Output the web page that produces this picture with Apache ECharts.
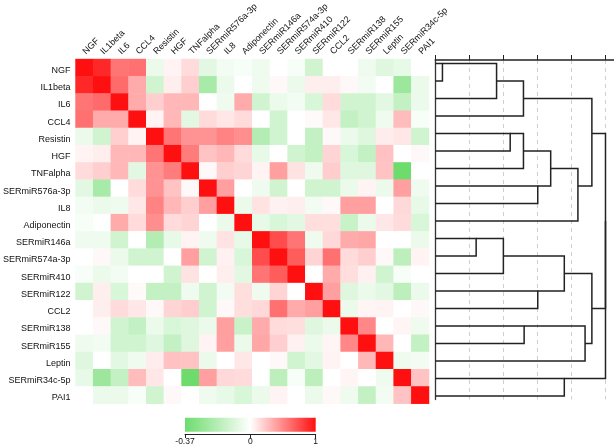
<!DOCTYPE html>
<html><head><meta charset="utf-8">
<script src="https://cdn.jsdelivr.net/npm/echarts@6/dist/echarts.min.js"></script>
<style>html,body{margin:0;padding:0;background:#fff}#c{width:614px;height:447px}</style>
</head><body><div id="c"></div>
<script>
// ---- data ----
const variables = ['NGF','IL1beta','IL6','CCL4','Resistin','HGF','TNFalpha','SERmiR576a-3p','IL8','Adiponectin','SERmiR146a','SERmiR574a-3p','SERmiR410','SERmiR122','CCL2','SERmiR138','SERmiR155','Leptin','SERmiR34c-5p','PAI1'];

// lower triangle (incl. diagonal) of the correlation matrix, row by row
const corrLower = [
  [1],
  [0.9, 1],
  [0.58, 0.62, 1],
  [0.6, 0.35, 0.35, 1],
  [-0.05, -0.12, 0.2, 0.05, 1],
  [0.05, 0.07, 0.3, 0.3, 0.58, 1],
  [0.15, 0.2, 0.3, -0.07, 0.45, 0.55, 1],
  [-0.07, -0.22, 0, 0.15, 0.45, 0.25, 0.03, 1],
  [-0.03, -0.05, -0.04, 0.1, 0.52, 0.3, 0.2, 0.4, 1],
  [-0.02, 0, 0.35, 0.15, 0.47, 0.15, 0.18, 0, -0.05, 1],
  [-0.04, -0.04, -0.12, 0, -0.19, -0.06, 0.05, -0.04, 0.12, -0.06, 1],
  [0, 0.03, -0.05, -0.12, -0.12, 0, 0.4, -0.12, 0.06, -0.1, 0.75, 1],
  [-0.02, -0.05, -0.03, 0, 0, -0.12, 0.12, 0, 0.07, -0.07, 0.58, 0.68, 1],
  [-0.12, 0.07, -0.1, 0.02, -0.15, -0.15, -0.04, -0.12, -0.03, 0.14, -0.04, 0.18, 0, 1],
  [0, 0.07, 0.15, 0.1, 0.03, 0.18, 0.21, -0.12, 0.03, 0.14, 0.16, 0.6, 0.35, 0.4, 1],
  [0, 0.03, -0.12, -0.15, -0.05, -0.1, -0.08, -0.05, 0.4, -0.14, 0.35, 0.15, 0.14, -0.08, -0.05, 1],
  [-0.04, -0.03, -0.12, -0.12, -0.08, -0.15, -0.08, 0.05, 0.4, -0.05, 0.37, 0.2, 0.06, -0.05, 0.04, 0.5, 1],
  [-0.08, 0, -0.07, -0.04, 0.08, 0.26, 0.25, -0.05, 0, 0.1, 0, 0.03, -0.12, -0.07, 0.05, 0, 0.3, 1],
  [-0.06, -0.25, -0.15, 0.28, 0.1, 0, -0.37, 0.4, 0.16, 0.15, 0, -0.17, -0.02, -0.17, 0, 0.04, 0, -0.04, 1],
  [0, -0.05, -0.05, -0.02, -0.12, 0.03, 0, -0.04, -0.06, -0.1, -0.05, 0.05, 0, -0.05, 0.03, -0.04, -0.15, -0.03, 0.25, 1]
];

// dendrogram linkage: merge k gets id 20+k; children are leaf indices (0-19) or merge ids
const mergeChildren = [
  [0,1],[20,2],[21,3],[4,5],[23,6],[7,8],[24,25],[26,9],[22,27],
  [10,11],[29,12],[13,14],[30,31],[15,16],[33,17],[32,34],[18,19],[28,35],[37,36]
];
const mergeHeights = [0.21,1.80,2.59,2.20,2.59,3.01,3.39,4.19,4.60,1.20,2.00,3.01,3.79,2.61,4.40,4.60,3.79,5.00,5.00];

const colorMin = -0.37, colorMax = 1;
const colorbarTicks = [-0.37, 0, 1];
const colorbarLabels = ['-0.37', '0', '1'];

// ---- build ----
const GREEN = [109, 220, 109], WHITE = [255, 255, 255], RED = [255, 16, 16];
function mix(a, b, t) { return 'rgb(' + a.map((x, i) => Math.round(x + (b[i] - x) * t)).join(',') + ')'; }
function colorAt(v) { return v >= 0 ? mix(WHITE, RED, v / colorMax) : mix(WHITE, GREEN, v / colorMin); }
const stops = [];
for (let k = 0; k < 138; k++) stops.push(colorAt(colorMin + k * (colorMax - colorMin) / 137));

const n = variables.length;
const heatData = [];
for (let i = 0; i < n; i++) for (let j = 0; j < n; j++) {
  const v = j <= i ? corrLower[i][j] : corrLower[j][i];
  heatData.push([j, i, v]);
}

// dendrogram brackets
const nodePos = {}, nodeH = {};
for (let i = 0; i < n; i++) { nodePos[i] = i; nodeH[i] = 0; }
const dendroData = [];
mergeChildren.forEach((c, k) => {
  const id = n + k, h = mergeHeights[k];
  const [a, b] = c;
  dendroData.push([nodeH[a], nodePos[a], h, nodePos[b], nodeH[b]]);
  nodePos[id] = Math.floor((nodePos[a] + nodePos[b]) / 2);
  nodeH[id] = h;
});

// colour bar: position p in [-1,1] (neg side scaled by colorMin)
const posOf = v => v < 0 ? -v / colorMin : v / colorMax;
const tickLabelMap = {};
colorbarTicks.forEach((v, i) => { tickLabelMap[posOf(v).toFixed(2)] = colorbarLabels[i]; });

const FONT = 'Liberation Sans, Arial, sans-serif';
const chart = echarts.init(document.getElementById('c'), null, { renderer: 'canvas' });
chart.setOption({
  animation: false,
  backgroundColor: '#fff',
  grid: [
    { left: 73, top: 55.7, width: 356, height: 348 },
    { left: 435.3, top: 60, right: 0, height: 339.5 },
    { left: 185, top: 417.7, width: 130.7, height: 16.3 }
  ],
  xAxis: [
    { gridIndex: 0, type: 'category', position: 'top', data: variables,
      axisLine: { show: false }, axisTick: { show: false }, splitLine: { show: false },
      axisLabel: { rotate: -45, interval: 0, fontSize: 9, fontFamily: FONT, color: '#111', margin: 6, padding: [0, 0, 20, 0] } },
    { gridIndex: 1, type: 'value', position: 'top', min: 0, max: 5.25, interval: 1,
      axisLine: { show: true, onZero: false, lineStyle: { color: '#222', width: 1.5 } },
      axisTick: { show: true, length: 5, lineStyle: { color: '#222', width: 1 } },
      axisLabel: { show: false },
      splitLine: { show: true, lineStyle: { color: '#cfcfcf', type: [4, 4], width: 1 } } },
    { gridIndex: 2, type: 'value', position: 'bottom', min: -1, max: 1, interval: 1,
      axisLine: { show: true, onZero: false, lineStyle: { color: '#222', width: 1 } },
      axisTick: { show: true, length: 4, lineStyle: { color: '#222' } },
      splitLine: { show: false },
      axisLabel: { fontSize: 8.5, fontFamily: FONT, color: '#111', margin: 3,
        formatter: v => tickLabelMap[Number(v).toFixed(2)] || '' } }
  ],
  yAxis: [
    { gridIndex: 0, type: 'category', inverse: true, data: variables,
      axisLine: { show: false }, axisTick: { show: false }, splitLine: { show: false },
      axisLabel: { interval: 0, fontSize: 9, fontFamily: FONT, color: '#111', margin: 5, verticalAlign: 'top', lineHeight: 5.5 } },
    { gridIndex: 1, type: 'value', inverse: true, min: -0.2, max: 19.2,
      axisLine: { show: true, onZero: false, lineStyle: { color: '#333', width: 1.3 } },
      axisTick: { show: false }, axisLabel: { show: false }, splitLine: { show: false } },
    { gridIndex: 2, type: 'value', min: -0.16, max: 1, show: false }
  ],
  visualMap: {
    show: false, type: 'continuous', seriesIndex: 0, dimension: 2,
    min: colorMin, max: colorMax, inRange: { color: stops }
  },
  series: [
    { type: 'heatmap', xAxisIndex: 0, yAxisIndex: 0, data: heatData,
      itemStyle: { borderWidth: 0 }, emphasis: { disabled: true } },
    { type: 'custom', xAxisIndex: 1, yAxisIndex: 1, data: dendroData,
      dimensions: ['hL', 'yL', 'h', 'yR', 'hR'],
      encode: { x: [0, 2, 4], y: [1, 3] },
      renderItem: function (params, api) {
        const p1 = api.coord([api.value(0), api.value(1)]);
        const p2 = api.coord([api.value(2), api.value(1)]);
        const p3 = api.coord([api.value(2), api.value(3)]);
        const p4 = api.coord([api.value(4), api.value(3)]);
        return { type: 'polyline', shape: { points: [p1, p2, p3, p4] },
          style: { stroke: '#222', lineWidth: 1.5, fill: null } };
      } },
    { type: 'custom', xAxisIndex: 2, yAxisIndex: 2,
      data: [[posOf(colorMin), posOf(colorMax)]],
      dimensions: ['p0', 'p1'], encode: { x: [0, 1] },
      renderItem: function (params, api) {
        const a = api.coord([api.value(0), 1]);
        const b = api.coord([api.value(1), 0]);
        return { type: 'rect', shape: { x: a[0], y: a[1], width: b[0] - a[0], height: b[1] - a[1] },
          style: { fill: new echarts.graphic.LinearGradient(0, 0, 1, 0, [
            { offset: 0, color: colorAt(colorMin) }, { offset: 0.5, color: '#fff' }, { offset: 1, color: colorAt(colorMax) }
          ]) } };
      } }
  ]
});
</script>
</body></html>
